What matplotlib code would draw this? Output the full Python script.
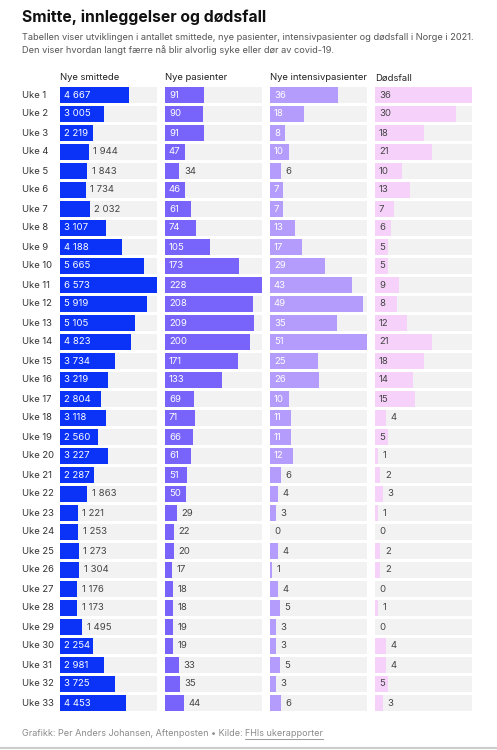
import matplotlib
matplotlib.use("Agg")
import matplotlib.pyplot as plt
from matplotlib.transforms import blended_transform_factory

plt.rcParams["font.family"] = ["Inter", "DejaVu Sans"]

weeks = [f"Uke {i}" for i in range(1, 34)]
smittede = [4667, 3005, 2219, 1944, 1843, 1734, 2032, 3107, 4188, 5665, 6573,
            5919, 5105, 4823, 3734, 3219, 2804, 3118, 2560, 3227, 2287, 1863,
            1221, 1253, 1273, 1304, 1176, 1173, 1495, 2254, 2981, 3725, 4453]
pasienter = [91, 90, 91, 47, 34, 46, 61, 74, 105, 173, 228, 208, 209, 200, 171,
             133, 69, 71, 66, 61, 51, 50, 29, 22, 20, 17, 18, 18, 19, 19, 33,
             35, 44]
intensiv = [36, 18, 8, 10, 6, 7, 7, 13, 17, 29, 43, 49, 35, 51, 25, 26, 10, 11,
            11, 12, 6, 4, 3, 0, 4, 1, 4, 5, 3, 3, 5, 3, 6]
dodsfall = [36, 30, 18, 21, 10, 13, 7, 6, 5, 5, 9, 8, 12, 21, 18, 14, 15, 4, 5,
            1, 2, 3, 1, 0, 2, 2, 0, 1, 0, 4, 4, 5, 3]

columns = [
    ("Nye smittede", smittede, "#0a33f7", "white", 2100),
    ("Nye pasienter", pasienter, "#7864fb", "white", 45),
    ("Nye intensivpasienter", intensiv, "#b39cfb", "white", 7),
    ("Dødsfall", dodsfall, "#f6d2fb", "#444444", 5),
]

W, H = 497, 750
fig = plt.figure(figsize=(W / 100, H / 100), dpi=100)


def fx(px):
    return px / W


def fy(py):
    return 1 - py / H


def fmt(v):
    return f"{v:,}".replace(",", " ")


# title and intro
fig.text(fx(22), fy(17), "Smitte, innleggelser og dødsfall", fontsize=11.3,
         fontweight="bold", color="#111111", va="center")
fig.text(fx(22), fy(33),
         "Tabellen viser utviklingen i antallet smittede, nye pasienter, intensivpasienter og dødsfall i Norge i 2021.\n"
         "Den viser hvordan langt færre nå blir alvorlig syke eller dør av covid-19.",
         fontsize=6.65, color="#555555", va="top", linespacing=1.4)

col_left = [60, 165, 270, 375]
col_w = 97
top_px, bot_px = 85.5, 712.5
n = len(weeks)
ypos = list(range(n))

for i, (name, vals, color, incol, thresh) in enumerate(columns):
    ax = fig.add_axes([fx(col_left[i]), fy(bot_px), col_w / W, (bot_px - top_px) / H])
    vmax = max(vals)
    ax.barh(ypos, [vmax] * n, height=0.84, color="#f2f2f2", linewidth=0)
    ax.barh(ypos, vals, height=0.84, color=color, linewidth=0)
    ax.set_xlim(0, vmax)
    ax.set_ylim(n - 0.5, -0.5)
    ax.axis("off")
    fig.text(fx(col_left[i]), fy(78), name, fontsize=6.8, color="#222222", va="center")
    for y, v in zip(ypos, vals):
        if v >= thresh:
            ax.annotate(fmt(v), (0, y), xytext=(2.8, 0), textcoords="offset points",
                        fontsize=6.9, color=incol, va="center", ha="left")
        else:
            ax.annotate(fmt(v), (v, y), xytext=(3.2, 0), textcoords="offset points",
                        fontsize=6.9, color="#444444", va="center", ha="left")
    if i == 0:
        tr = blended_transform_factory(fig.transFigure, ax.transData)
        for y, w in zip(ypos, weeks):
            ax.text(fx(22), y, w, transform=tr, fontsize=6.8, color="#333333",
                    va="center", ha="left")

# footer
foot = fig.text(fx(22), fy(733), "Grafikk: Per Anders Johansen, Aftenposten • Kilde: ",
                fontsize=6.5, color="#8a8a8a", va="center")
fig.canvas.draw()
bb = foot.get_window_extent()
link = fig.text(bb.x1 / W, fy(733), "FHIs ukerapporter", fontsize=6.5,
                color="#8a8a8a", va="center")
fig.canvas.draw()
lb = link.get_window_extent()
fig.add_artist(plt.Line2D([lb.x0 / W, lb.x1 / W], [lb.y0 / H - 0.002] * 2,
                          color="#8a8a8a", linewidth=0.6))
fig.add_artist(plt.Line2D([0, 1], [fy(748)] * 2, color="#cccccc", linewidth=1.5))

fig.savefig("out.png", dpi=100, facecolor="white")
